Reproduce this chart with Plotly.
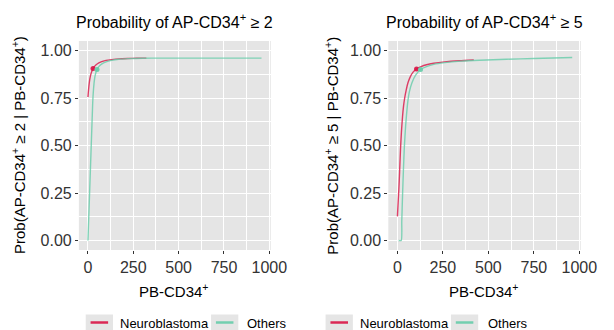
import plotly.graph_objects as go

W, H = 614, 330

# ---------------- data ----------------
series_names = ["Neuroblastoma", "Others"]
series_colors = ["#DA1446", "#66CDAA"]

panel_titles = ["Probability of AP-CD34<sup>+</sup> ≥ 2",
                "Probability of AP-CD34<sup>+</sup> ≥ 5"]
y_titles = ["Prob(AP-CD34<sup>+</sup> ≥ 2 | PB-CD34<sup>+</sup>)",
            "Prob(AP-CD34<sup>+</sup> ≥ 5 | PB-CD34<sup>+</sup>)"]
x_title = "PB-CD34<sup>+</sup>"

x_tick_vals = [0, 250, 500, 750, 1000]
y_tick_vals = [0.0, 0.25, 0.50, 0.75, 1.00]

# Panel 1: AP-CD34+ >= 2
p1_nb_x = [0, 2, 5, 8, 12, 17, 22, 28, 35, 45, 60, 80, 100, 130, 170, 220, 270, 322]
p1_nb_y = [0.755, 0.78, 0.81, 0.835, 0.858, 0.878, 0.892, 0.905, 0.915, 0.925,
           0.935, 0.943, 0.948, 0.952, 0.956, 0.958, 0.959, 0.960]
p1_ot_x = [0, 26, 28, 31, 35, 40, 50, 60, 75, 100, 130, 170, 220, 300, 400, 600, 800, 957]
p1_ot_y = [0.0, 0.72, 0.76, 0.80, 0.84, 0.87, 0.90, 0.915, 0.928, 0.94, 0.948,
           0.954, 0.957, 0.959, 0.960, 0.960, 0.960, 0.960]
p1_pt_x = [28, 50]
p1_pt_y = [0.905, 0.900]

# Panel 2: AP-CD34+ >= 5
p2_nb_x = [0, 4, 8, 12, 17, 22, 28, 34, 40, 48, 58, 70, 85, 105, 130, 160, 200, 260, 340, 420]
p2_nb_y = [0.127, 0.20, 0.27, 0.36, 0.48, 0.57, 0.65, 0.71, 0.75, 0.79, 0.83, 0.86,
           0.885, 0.903, 0.915, 0.925, 0.933, 0.940, 0.946, 0.950]
p2_ot_x = [7, 21, 24, 28, 33, 38, 45, 50, 57, 65, 80, 100, 127, 160, 200, 260, 350,
           450, 600, 750, 961]
p2_ot_y = [0.0, 0.0, 0.10, 0.23, 0.37, 0.49, 0.60, 0.66, 0.73, 0.78, 0.83, 0.87,
           0.900, 0.915, 0.927, 0.936, 0.944, 0.949, 0.954, 0.958, 0.963]
p2_pt_x = [105, 127]
p2_pt_y = [0.903, 0.900]

# ---------------- helpers ----------------
def px(x):
    return x / W

def py(y):
    return 1 - y / H

FONT = "Liberation Sans, Arial, sans-serif"
PANEL_BG = "#E5E5E5"
TICK_COL = "#333333"

panels = [
    dict(nb=(p1_nb_x, p1_nb_y), ot=(p1_ot_x, p1_ot_y), pt=(p1_pt_x, p1_pt_y),
         xa="x", ya="y", dom=(81, 278)),
    dict(nb=(p2_nb_x, p2_nb_y), ot=(p2_ot_x, p2_ot_y), pt=(p2_pt_x, p2_pt_y),
         xa="x2", ya="y2", dom=(398.7, 596.3)),
]

fig = go.Figure()
for p in panels:
    for (xs, ys), col in zip([p["nb"], p["ot"]], series_colors):
        fig.add_trace(go.Scatter(x=xs, y=ys, mode="lines", xaxis=p["xa"], yaxis=p["ya"],
                                 line=dict(color=col, width=1.4, shape="spline", smoothing=0.6),
                                 opacity=0.8, showlegend=False, hoverinfo="skip"))
    fig.add_trace(go.Scatter(x=p["pt"][0], y=p["pt"][1], mode="markers",
                             xaxis=p["xa"], yaxis=p["ya"],
                             marker=dict(color=series_colors, size=5),
                             opacity=0.9, showlegend=False, hoverinfo="skip"))

y_dom = [py(250), py(41)]
axis_common = dict(showline=False, zeroline=False, gridcolor="white", gridwidth=1.1,
                   ticks="outside", ticklen=3, tickwidth=1, tickcolor=TICK_COL,
                   tickfont=dict(family=FONT, size=16, color=TICK_COL))

layout = dict(width=W, height=H, margin=dict(l=0, r=0, t=0, b=0),
              paper_bgcolor="white", plot_bgcolor=PANEL_BG,
              font=dict(family=FONT, color="black"))

for i, p in enumerate(panels):
    sfx = "" if i == 0 else str(i + 1)
    layout["xaxis" + sfx] = dict(axis_common, domain=[px(p["dom"][0]), px(p["dom"][1])],
                                 range=[-50, 1008], tickvals=x_tick_vals,
                                 anchor="y" + sfx,
                                 minor=dict(dtick=125, tick0=0, showgrid=True,
                                            gridcolor="white", gridwidth=0.5, ticks=""))
    layout["yaxis" + sfx] = dict(axis_common, domain=y_dom, range=[-0.05, 1.05],
                                 tickvals=y_tick_vals, tickformat=".2f",
                                 anchor="x" + sfx,
                                 minor=dict(dtick=0.125, tick0=0, showgrid=True,
                                            gridcolor="white", gridwidth=0.5, ticks=""))

fig.update_layout(**layout)

annotations = []
shapes = []
legend_pos = [  # (box_left, text_left) pixel positions per item, per panel
    [(88, 121), (216.7, 252)],
    [(334.3, 368), (463, 498.7)],
]
ytitle_x = [19, 340]
for i, p in enumerate(panels):
    cx = (p["dom"][0] + p["dom"][1]) / 2
    annotations.append(dict(text=panel_titles[i], x=px(cx), y=py(21), xref="paper", yref="paper",
                            xanchor="center", yanchor="middle", showarrow=False,
                            font=dict(family=FONT, size=16, color="black")))
    annotations.append(dict(text=x_title, x=px(cx - 1), y=py(290), xref="paper", yref="paper",
                            xanchor="center", yanchor="middle", showarrow=False,
                            font=dict(family=FONT, size=15, color="black")))
    annotations.append(dict(text=y_titles[i], x=px(ytitle_x[i]), y=py(145.5), xref="paper",
                            yref="paper", xanchor="center", yanchor="middle", textangle=-90,
                            showarrow=False, font=dict(family=FONT, size=15, color="black")))
    for (bx, tx), name, col in zip(legend_pos[i], series_names, series_colors):
        shapes.append(dict(type="rect", xref="paper", yref="paper", x0=px(bx), x1=px(bx + 28),
                           y0=py(331), y1=py(314.5), fillcolor=PANEL_BG, line=dict(width=0)))
        shapes.append(dict(type="line", xref="paper", yref="paper", x0=px(bx + 5), x1=px(bx + 23),
                           y0=py(322.5), y1=py(322.5), line=dict(color=col, width=2.5),
                           opacity=0.9))
        annotations.append(dict(text=name, x=px(tx), y=py(323), xref="paper", yref="paper",
                                xanchor="left", yanchor="middle", showarrow=False,
                                font=dict(family=FONT, size=13, color="black")))

fig.update_layout(annotations=annotations, shapes=shapes)
fig.write_html("out.html")
